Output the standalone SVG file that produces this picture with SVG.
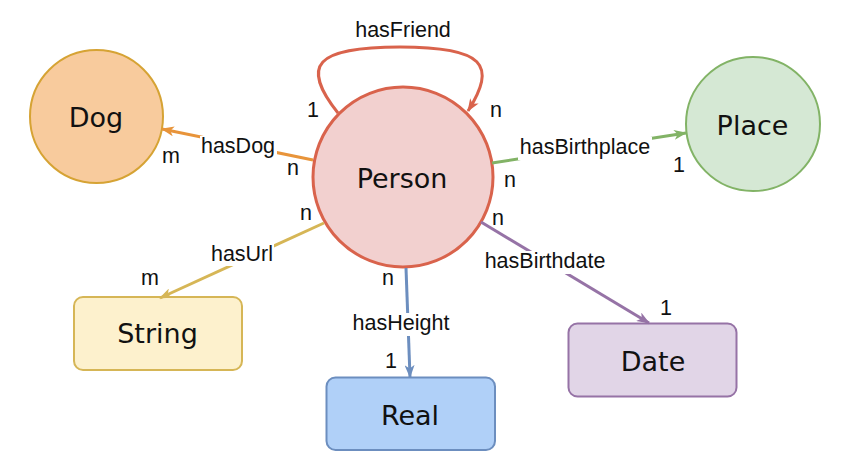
<svg xmlns="http://www.w3.org/2000/svg" width="846" height="470" viewBox="0 0 846 470">
<style>
.node{font-family:"DejaVu Sans",Verdana,sans-serif;font-size:27px;fill:#111;text-anchor:middle}
.lbl{font-family:"Liberation Sans",Arial,sans-serif;font-size:21.5px;fill:#111;text-anchor:middle}
.bg{fill:#fff}
.e{fill:none;stroke-width:3}
</style>
<defs>
<marker id="aRed" viewBox="0 0 13 10" refX="12" refY="5" markerWidth="13" markerHeight="10" markerUnits="userSpaceOnUse" orient="auto"><path d="M0,0 L13,5 L0,10 L3.5,5 z" fill="#d9634c"/></marker>
<marker id="aOrange" viewBox="0 0 13 10" refX="12" refY="5" markerWidth="13" markerHeight="10" markerUnits="userSpaceOnUse" orient="auto"><path d="M0,0 L13,5 L0,10 L3.5,5 z" fill="#e8943a"/></marker>
<marker id="aGreen" viewBox="0 0 13 10" refX="12" refY="5" markerWidth="13" markerHeight="10" markerUnits="userSpaceOnUse" orient="auto"><path d="M0,0 L13,5 L0,10 L3.5,5 z" fill="#82b366"/></marker>
<marker id="aYellow" viewBox="0 0 13 10" refX="12" refY="5" markerWidth="13" markerHeight="10" markerUnits="userSpaceOnUse" orient="auto"><path d="M0,0 L13,5 L0,10 L3.5,5 z" fill="#d6b656"/></marker>
<marker id="aBlue" viewBox="0 0 13 10" refX="12" refY="5" markerWidth="13" markerHeight="10" markerUnits="userSpaceOnUse" orient="auto"><path d="M0,0 L13,5 L0,10 L3.5,5 z" fill="#6c8ebf"/></marker>
<marker id="aPurple" viewBox="0 0 13 10" refX="12" refY="5" markerWidth="13" markerHeight="10" markerUnits="userSpaceOnUse" orient="auto"><path d="M0,0 L13,5 L0,10 L3.5,5 z" fill="#9673a6"/></marker>
</defs>
<rect width="846" height="470" fill="#fff"/>

<g id="node-dog">
<circle cx="96.5" cy="116.5" r="66.5" fill="#f8cb9d" stroke="#d6a334" stroke-width="2"/>
<text class="node" x="96" y="127">Dog</text>
</g>
<g id="node-person">
<circle cx="403" cy="177" r="90" fill="#f2d0cf" stroke="#d9634c" stroke-width="3"/>
<text class="node" x="402" y="188">Person</text>
</g>
<g id="node-place">
<circle cx="753" cy="124" r="67" fill="#d5e8d4" stroke="#82b366" stroke-width="2"/>
<text class="node" x="752.5" y="135">Place</text>
</g>
<g id="node-string">
<rect x="74" y="297" width="168" height="73" rx="9" fill="#fdf1cd" stroke="#d6b656" stroke-width="2"/>
<text class="node" x="157.5" y="343">String</text>
</g>
<g id="node-real">
<rect x="326.5" y="377.5" width="168.5" height="72.5" rx="9" fill="#b0d0f8" stroke="#6c8ebf" stroke-width="2"/>
<text class="node" x="410" y="425">Real</text>
</g>
<g id="node-date">
<rect x="568.5" y="323.5" width="168" height="73" rx="9" fill="#e1d5e7" stroke="#9673a6" stroke-width="2"/>
<text class="node" x="653" y="371">Date</text>
</g>

<g id="connectors">
<path class="e" stroke="#d9634c" stroke-width="3.5" d="M338,113 C300,65 315,47 400,47 C485,47 497,65 468,111" marker-end="url(#aRed)"/>
<path class="e" stroke="#e8943a" d="M313,160 L162,129" marker-end="url(#aOrange)"/>
<path class="e" stroke="#82b366" d="M492,163 L686,133" marker-end="url(#aGreen)"/>
<path class="e" stroke="#d6b656" d="M324,223 L160,298" marker-end="url(#aYellow)"/>
<path class="e" stroke="#6c8ebf" d="M406,268 L410,377" marker-end="url(#aBlue)"/>
<path class="e" stroke="#9673a6" d="M481,222 L649,323" marker-end="url(#aPurple)"/>

<rect class="bg" x="200" y="136" width="77" height="22"/>
<rect class="bg" x="518" y="137" width="134" height="23"/>
<rect class="bg" x="210" y="244" width="64" height="22"/>
<rect class="bg" x="351" y="313" width="101" height="23"/>
<rect class="bg" x="483" y="251" width="123" height="23"/>

<text class="lbl" x="403" y="37">hasFriend</text>
<text class="lbl" x="238" y="153">hasDog</text>
<text class="lbl" x="585" y="154">hasBirthplace</text>
<text class="lbl" x="242" y="261">hasUrl</text>
<text class="lbl" x="401" y="330">hasHeight</text>
<text class="lbl" x="545" y="268">hasBirthdate</text>

<text class="lbl" x="313" y="117">1</text>
<text class="lbl" x="496" y="117">n</text>
<text class="lbl" x="171" y="163">m</text>
<text class="lbl" x="293" y="175">n</text>
<text class="lbl" x="510" y="187">n</text>
<text class="lbl" x="679" y="172">1</text>
<text class="lbl" x="306" y="220">n</text>
<text class="lbl" x="150" y="285">m</text>
<text class="lbl" x="388" y="285">n</text>
<text class="lbl" x="391" y="368">1</text>
<text class="lbl" x="498" y="225">n</text>
<text class="lbl" x="666" y="315">1</text>
</g>
</svg>
